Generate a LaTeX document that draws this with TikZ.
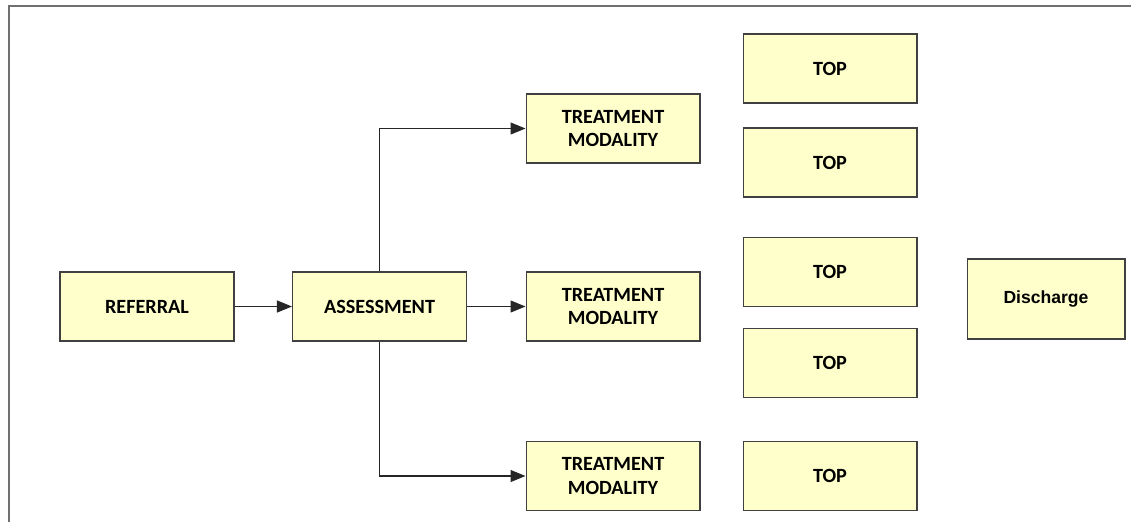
\documentclass[tikz,border=0pt]{standalone}
\usepackage{fontspec}
\setmainfont{Carlito}
\newfontfamily\arialfont{Liberation Sans}
\usetikzlibrary{arrows.meta}
\definecolor{boxfill}{HTML}{FFFFCC}
\definecolor{boxline}{HTML}{404040}
\definecolor{frameline}{HTML}{707070}

\begin{document}
\begin{tikzpicture}[x=0.02cm,y=-0.02cm,
    box/.style={draw=boxline,fill=boxfill,line width=0.6pt,minimum width=3.48cm,
      minimum height=1.38cm,align=center,inner sep=0pt,
      font=\fontsize{11.5}{13.5}\selectfont\bfseries},
    link/.style={draw=black!85,line width=0.6pt,-{Triangle[length=3mm,width=2.4mm]}}]
      \useasboundingbox (0,0) rectangle (1131,522);
      \draw[frameline,line width=1.2pt] (9,522) -- (9,6) -- (1131,6);
      \node[box] (referral) at (147,306.5) {REFERRAL};
      \node[box] (assess) at (379.5,306.5) {ASSESSMENT};
      \node[box] (tm1) at (613,128.5) {TREATMENT\\MODALITY};
      \node[box] (tm2) at (613,306.5) {TREATMENT\\MODALITY};
      \node[box] (tm3) at (613,476) {TREATMENT\\MODALITY};
      \node[box] (top1) at (830,68.5) {TOP};
      \node[box] (top2) at (830,162.5) {TOP};
      \node[box] (top3) at (830,272) {TOP};
      \node[box] (top4) at (830,363) {TOP};
      \node[box] (top5) at (830,476) {TOP};
      \node[box,minimum width=3.16cm,minimum height=1.6cm,
        font=\arialfont\fontsize{10}{12}\selectfont\bfseries] (discharge) at (1046,299) {Discharge};
      \draw[link] (referral) -- (assess);
      \draw[link] (assess.north) |- (tm1.west);
      \draw[link] (assess) -- (tm2);
      \draw[link] (assess.south) |- (tm3.west);
\end{tikzpicture}
\end{document}
